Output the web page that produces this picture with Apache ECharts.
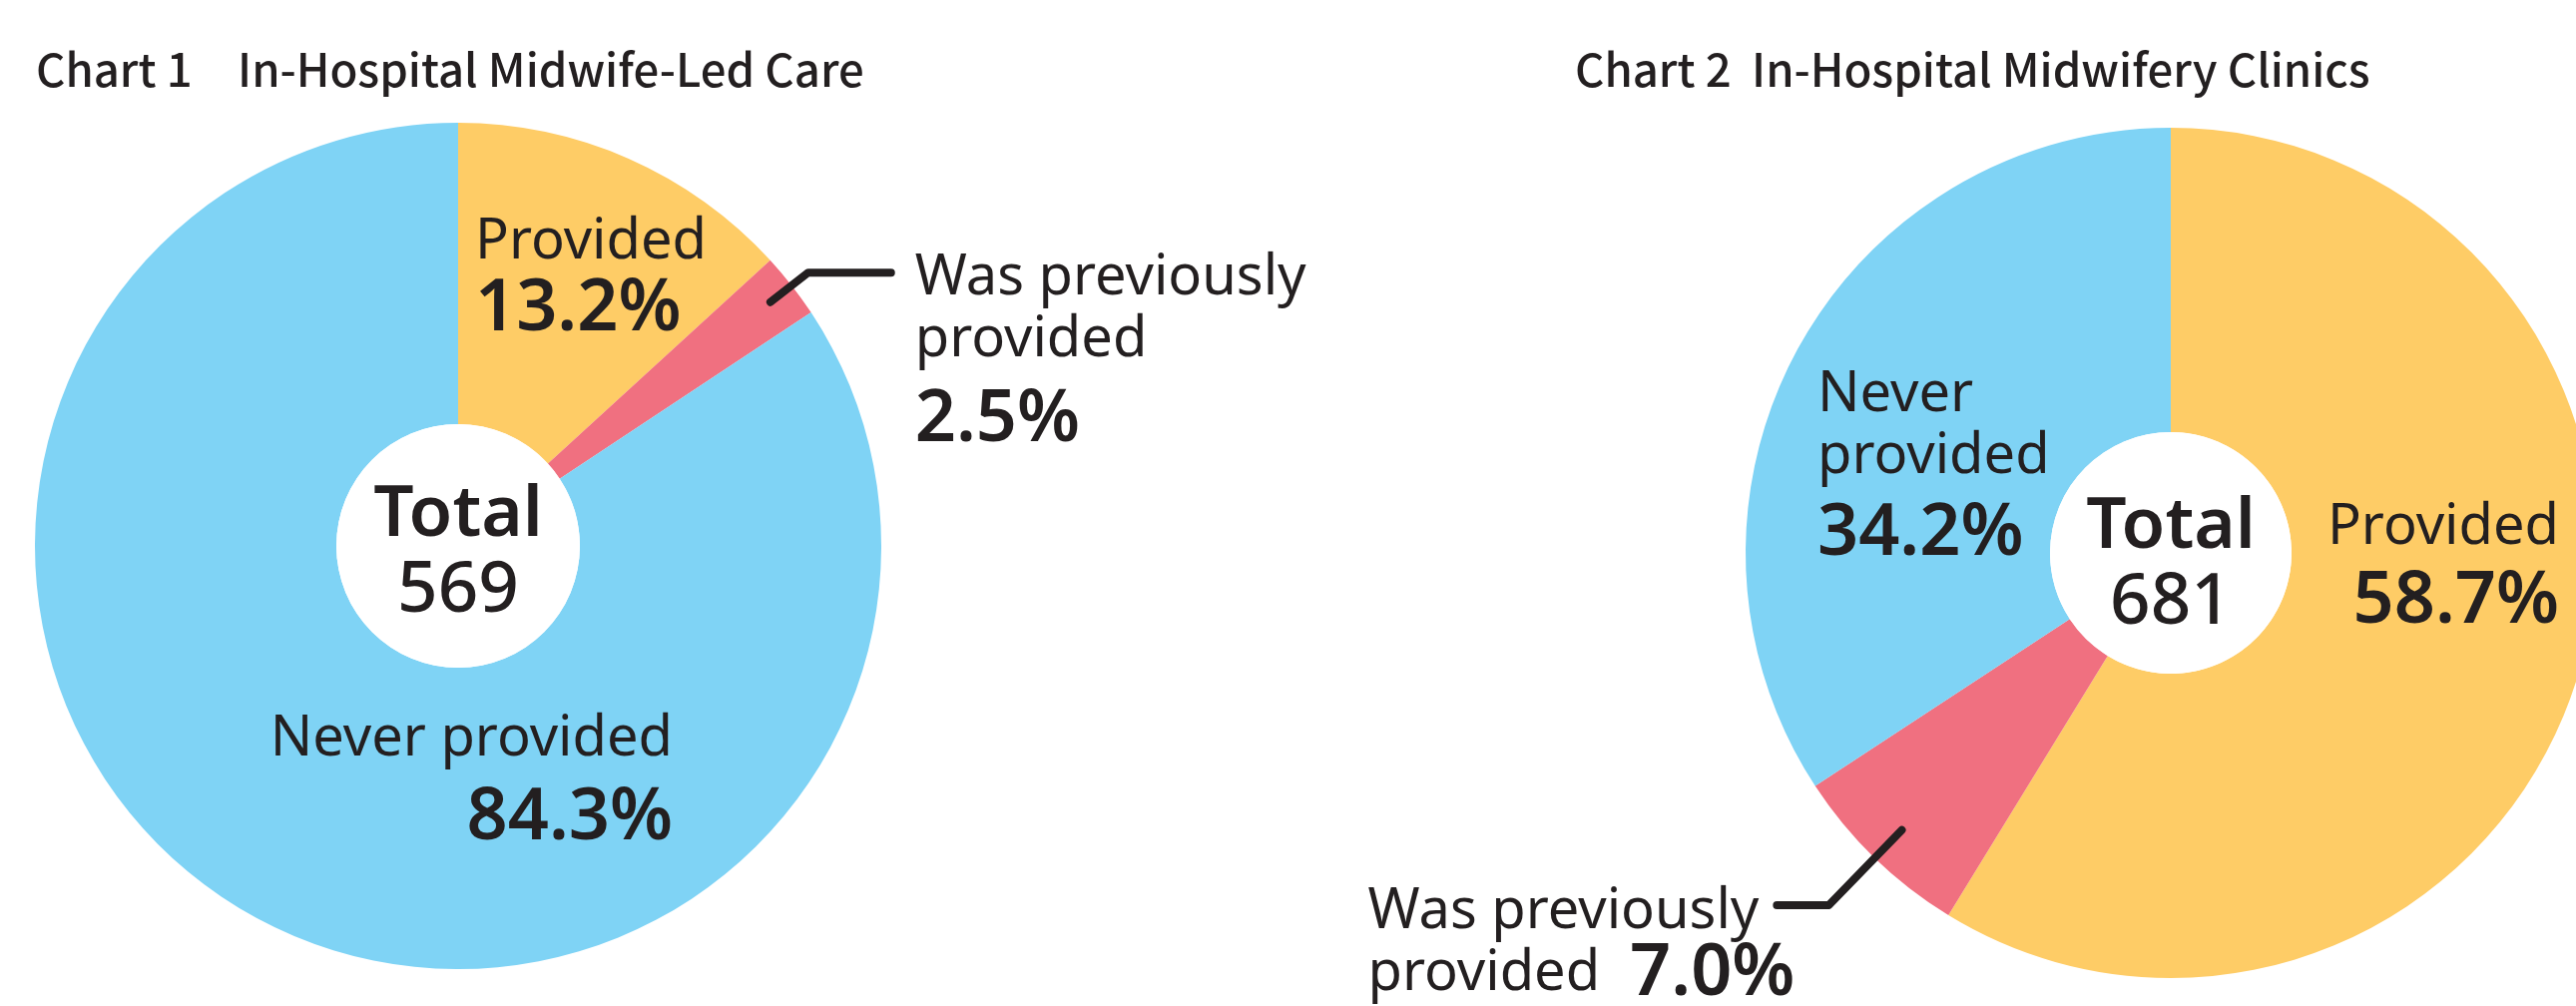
<!DOCTYPE html>
<html>
<head>
<meta charset="utf-8">
<script src="https://cdn.jsdelivr.net/npm/echarts@6/dist/echarts.min.js"></script>
<style>
  html, body { margin: 0; padding: 0; background: #fff; }
  #main { width: 2581px; height: 1008px; }
</style>
</head>
<body>
<div id="main"></div>
<script>
// chart 1 : in-hospital midwife-led care
const careNames = ['Provided', 'Was previously provided', 'Never provided'];
const careValues = [13.2, 2.5, 84.3];
const careTotal = 569;
// chart 2 : in-hospital midwifery clinics
const clinicNames = ['Provided', 'Was previously provided', 'Never provided'];
const clinicValues = [58.7, 7.0, 34.2];
const clinicTotal = 681;

// label text as it is broken in the picture
const careLabelText = ['Provided', 'Was previously\nprovided', 'Never provided'];
const clinicLabelText = ['Provided', 'Was previously\nprovided', 'Never\nprovided'];

const colors = ['#FECC66', '#F07080', '#7FD3F5'];
const ink = '#231F20';
const labelFont = '"Noto Sans", sans-serif';
const titleFont = '"Noto Sans CJK JP", sans-serif';

const rich = {
  n: { fontFamily: labelFont, fontSize: 56, lineHeight: 62, color: ink },
  vi: { fontFamily: labelFont, fontSize: 72, fontWeight: 600, lineHeight: 62, color: ink, padding: [0, 0, 0, 30] },
  t: { fontFamily: labelFont, fontSize: 71, fontWeight: 600, lineHeight: 76, color: ink },
  c: { fontFamily: labelFont, fontSize: 71, fontWeight: 500, lineHeight: 76, color: ink }
};
// value styles that only differ in line height
[72, 86, 92, 96, 98].forEach(h => {
  rich['v' + h] = { fontFamily: labelFont, fontSize: 72, fontWeight: 600, lineHeight: h, color: ink };
});
// left aligned copy for the outside labels
const richLeft = {};
Object.keys(rich).forEach(k => { richLeft[k] = Object.assign({ align: 'left' }, rich[k]); });

function labelText(texts, valueKeys) {
  return function (p) {
    const lines = texts[p.dataIndex].split('\n').map(s => '{n|' + s + '}');
    const v = p.value.toFixed(1) + '%';
    const key = valueKeys[p.dataIndex];
    if (key === 'vi') {
      lines[lines.length - 1] += '{vi|' + v + '}';
    } else {
      lines.push('{' + key + '|' + v + '}');
    }
    return lines.join('\n');
  };
}

// label placement for the slices whose text sits inside
const carePos = [{ x: 476, y: 212, align: 'left' }, null, { x: 674, y: 710, align: 'right' }];
const clinicPos = [{ x: 2564, y: 498, align: 'right' }, null, { x: 1821, y: 365, align: 'left' }];

function slices(names, values) {
  return values.map((v, i) => ({ name: names[i], value: v, itemStyle: { color: colors[i] } }));
}

function buildPies(cfg) {
  const fmt = labelText(cfg.texts, cfg.valueKeys);
  return [
    {
      type: 'pie',
      center: cfg.center,
      radius: [cfg.hole, cfg.r],
      startAngle: 90,
      silent: true,
      avoidLabelOverlap: false,
      label: { show: true, position: 'inside', formatter: fmt, rich: rich },
      labelLine: { show: false },
      labelLayout: function (p) {
        const pos = cfg.pos[p.dataIndex];
        if (!pos) return {};
        return { x: pos.x, y: pos.y, align: pos.align, verticalAlign: 'top' };
      },
      data: slices(cfg.names, cfg.values).map((d, i) =>
        cfg.pos[i] ? d : Object.assign(d, { label: { show: false } }))
    },
    {
      // white hole with the total
      type: 'pie',
      center: cfg.center,
      radius: [0, cfg.hole],
      silent: true,
      label: {
        show: true, position: 'center', rich: rich, padding: [cfg.totalPad, 0, 0, 0],
        formatter: p => '{t|' + p.name + '}\n{c|' + p.value + '}'
      },
      labelLine: { show: false },
      data: [{ name: 'Total', value: cfg.total, itemStyle: { color: '#fff' } }]
    },
    {
      // transparent copy on top, carries the leader-lined label of the small slice
      type: 'pie',
      z: 5,
      center: cfg.center,
      radius: [0, cfg.lineR],
      startAngle: 90,
      silent: true,
      avoidLabelOverlap: false,
      itemStyle: { color: 'rgba(0,0,0,0)' },
      label: {
        show: true, position: 'outside', formatter: fmt, rich: richLeft,
        distanceToLabelLine: cfg.lineGap, padding: cfg.lblPad, color: ink
      },
      labelLine: {
        show: true, length: cfg.len1, length2: cfg.len2, smooth: false,
        lineStyle: { color: ink, width: 8, cap: 'round', join: 'round' }
      },
      data: cfg.values.map((v, i) => ({
        name: cfg.names[i], value: v,
        label: { show: !cfg.pos[i] }, labelLine: { show: !cfg.pos[i] }
      }))
    }
  ];
}

const chart = echarts.init(document.getElementById('main'), null, { renderer: 'canvas' });
chart.setOption({
  animation: false,
  backgroundColor: '#fff',
  title: [
    {
      text: 'Chart 1\u3000In-Hospital Midwife-Led Care', left: 36, top: 47, padding: 0,
      textStyle: { fontFamily: titleFont, fontSize: 45.5, fontWeight: 500, color: ink }
    },
    {
      text: 'Chart 2  In-Hospital Midwifery Clinics', left: 1578, top: 47, padding: 0,
      textStyle: { fontFamily: titleFont, fontSize: 45.5, fontWeight: 500, color: ink }
    }
  ],
  series: [].concat(
    buildPies({
      names: careNames, values: careValues, total: careTotal, texts: careLabelText,
      valueKeys: ['v72', 'v98', 'v96'], pos: carePos, totalPad: 16,
      center: [459, 547], r: 424, hole: 122, lineR: 397, len1: 48, len2: 83,
      lineGap: 24, lblPad: [172, 0, 0, 0]
    }),
    buildPies({
      names: clinicNames, values: clinicValues, total: clinicTotal, texts: clinicLabelText,
      valueKeys: ['v86', 'vi', 'v92'], pos: clinicPos, totalPad: 26,
      center: [2175, 554], r: 426, hole: 121, lineR: 387, len1: 105, len2: 52,
      lineGap: -18, lblPad: [76, 0, 0, 0]
    })
  )
});
</script>
</body>
</html>
